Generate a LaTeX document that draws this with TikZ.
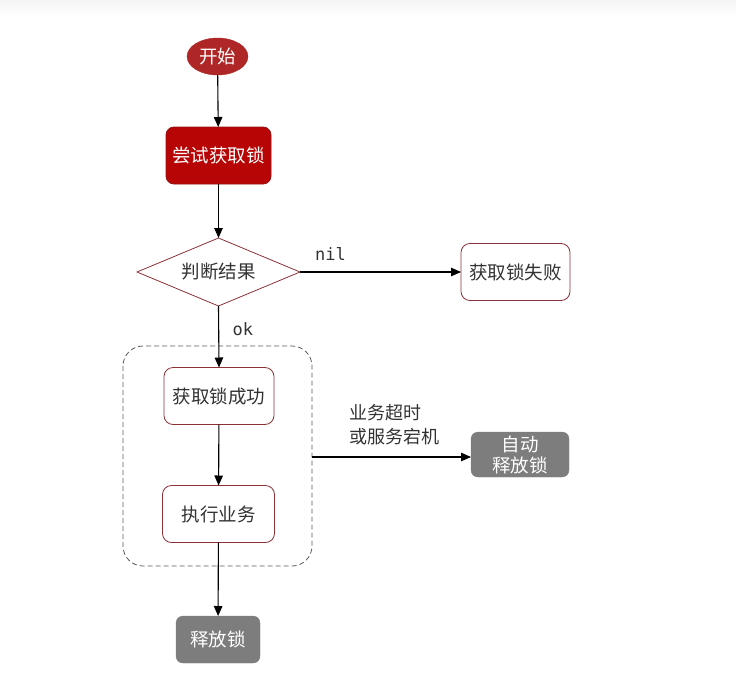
\documentclass[tikz,border=0pt]{standalone}
\usepackage{fontspec}
\setmainfont{Noto Sans CJK SC}
\newfontfamily\monof{DejaVu Sans Mono}
\usetikzlibrary{shapes.geometric,arrows.meta}
\definecolor{startred}{RGB}{175,38,38}
\definecolor{tryred}{RGB}{183,4,4}
\definecolor{tryborder}{RGB}{150,20,20}
\definecolor{thinred}{RGB}{140,50,55}
\definecolor{txtgray}{RGB}{51,51,51}
\definecolor{boxgray}{RGB}{125,125,125}
\tikzset{
  x=1pt, y=-1pt,
  every node/.style={font=\fontsize{18.5}{22}\selectfont, inner sep=0pt, outer sep=0pt},
  plainbox/.style={draw=thinred, line width=0.8pt, fill=white, rounded corners=9pt, text=txtgray, minimum width=#1, minimum height=57pt},
  graybox/.style={draw=boxgray, fill=boxgray, rounded corners=7pt, text=white, align=center},
  arr/.style={-{Triangle[length=10pt,width=8.5pt]}, line width=1.1pt, black},
  lbl/.style={text=txtgray, font=\monof\fontsize{17}{21}\selectfont},
}
\begin{document}
\begin{tikzpicture}
\useasboundingbox (0,0) rectangle (736,677);
\fill[top color=black!4, bottom color=white, draw=none] (0,0) rectangle (736,16);

\node[ellipse, draw=startred, fill=startred, text=white, minimum width=61pt, minimum height=37pt] (start) at (217.5,56.5) {开始};
\node[draw=tryborder, fill=tryred, rounded corners=8pt, text=white, minimum width=105pt, minimum height=57pt, line width=0.8pt] (try) at (218.5,155.5) {尝试获取锁};
\node[diamond, aspect=2.4, draw=thinred, line width=0.8pt, fill=white, text=txtgray, minimum width=163pt, minimum height=68pt] (judge) at (218.5,272) {判断结果};
\node[plainbox=109pt] (fail) at (515.5,272) {获取锁失败};

\draw[draw=black!65, line width=0.8pt, dash pattern=on 5pt off 3pt, rounded corners=20pt] (123,346) rectangle (312,566);
\coordinate (cright) at (312,457);

\node[plainbox=110pt] (succ) at (219,396) {获取锁成功};
\node[plainbox=112pt] (exec) at (218.5,514) {执行业务};
\node[graybox, minimum width=84pt, minimum height=47pt] (rel) at (218,639.5) {释放锁};
\node[graybox, minimum width=98pt, minimum height=45pt, font=\fontsize{18.5}{21}\selectfont] (auto) at (520,454.5) {自动\\释放锁};

\draw[arr] (start) -- (try);
\draw[arr] (try) -- (judge);
\draw[arr] (judge.east) -- node[lbl, pos=0.19, above=12pt] (nil) {nil} (fail.west);
\draw[arr] (judge.south) -- node[lbl, pos=0.38, right=14pt] (ok) {ok} (succ.north);
\draw[arr] (succ) -- (exec);
\draw[arr] (exec) -- (rel);
\draw[arr] (cright) -- (auto.west |- cright);
\node[anchor=west, align=left, text=txtgray, font=\fontsize{18}{24}\selectfont] (why) at (349,425) {业务超时\\或服务宕机};
\end{tikzpicture}
\end{document}
